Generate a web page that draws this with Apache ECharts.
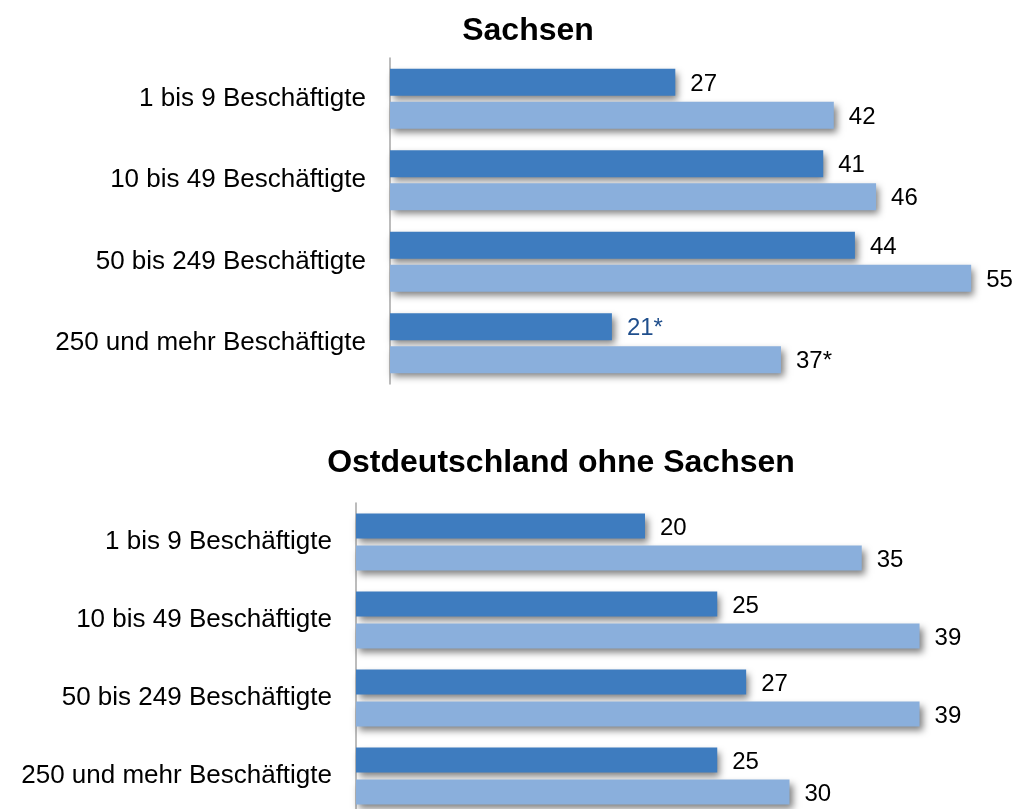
<!DOCTYPE html>
<html>
<head>
<meta charset="utf-8">
<script src="https://cdn.jsdelivr.net/npm/echarts@6/dist/echarts.min.js"></script>
<style>
  html, body { margin: 0; padding: 0; background: #fff; }
  #chart { width: 1016px; height: 809px; }
</style>
</head>
<body>
<div id="chart"></div>
<script>
var categories = ['1 bis 9 Beschäftigte', '10 bis 49 Beschäftigte', '50 bis 249 Beschäftigte', '250 und mehr Beschäftigte']
var sachsenDark = [27, 41, 44, 21]
var sachsenLight = [42, 46, 55, 37]
var sachsenStarred = [false, false, false, true]
var ostDark = [20, 25, 27, 25]
var ostLight = [35, 39, 39, 30]
var ostStarred = [false, false, false, false]

var font = 'Liberation Sans, Arial, sans-serif'
var darkBlue = '#3e7cbf'
var lightBlue = '#8aafdc'

var chart = echarts.init(document.getElementById('chart'))

function makeSeries(values, starred, color, idx, barWidth, gap, starColor) {
  return {
    type: 'bar',
    xAxisIndex: idx,
    yAxisIndex: idx,
    barWidth: barWidth,
    barGap: gap,
    data: values.map(function(v, i) {
      // values marked with * get their own label colour
      if (starred[i] && starColor) return { value: v, label: { color: starColor } }
      return v
    }),
    itemStyle: {
      color: color,
      shadowColor: 'rgba(0,0,0,0.5)',
      shadowBlur: 7,
      shadowOffsetX: 3,
      shadowOffsetY: 4
    },
    label: {
      show: true,
      position: 'right',
      distance: 15,
      offset: [0, 2],
      fontFamily: font,
      fontSize: 24,
      color: '#000',
      formatter: function(p) {
        return p.value + (starred[p.dataIndex] ? '*' : '')
      }
    },
    animation: false
  }
}

var yAxisBase = function(idx) {
  return {
    type: 'category',
    gridIndex: idx,
    inverse: true,
    data: categories,
    axisLine: { show: true, lineStyle: { color: '#a6a6a6', width: 1.5 } },
    axisTick: { show: false },
    axisLabel: { margin: 24, padding: [12, 0, 0, 0], fontFamily: font, fontSize: 26, color: '#000' }
  }
}

chart.setOption({
  backgroundColor: '#fff',
  title: [
    {
      text: 'Sachsen',
      left: 523, top: 10,
      textAlign: 'center',
      textStyle: { fontFamily: font, fontSize: 32, fontWeight: 'bold', color: '#000' }
    },
    {
      text: 'Ostdeutschland ohne Sachsen',
      left: 556, top: 442,
      textAlign: 'center',
      textStyle: { fontFamily: font, fontSize: 32, fontWeight: 'bold', color: '#000' }
    }
  ],
  grid: [
    { left: 390, top: 58, width: 634, height: 326, outerBoundsMode: 'none' },
    { left: 356, top: 503, width: 578, height: 312, outerBoundsMode: 'none' }
  ],
  xAxis: [
    { type: 'value', gridIndex: 0, min: 0, max: 60, show: false },
    { type: 'value', gridIndex: 1, min: 0, max: 40, show: false }
  ],
  yAxis: [yAxisBase(0), yAxisBase(1)],
  series: [
    makeSeries(sachsenDark, sachsenStarred, darkBlue, 0, 27, '22%', '#1f4e8c'),
    makeSeries(sachsenLight, sachsenStarred, lightBlue, 0, 27, '22%'),
    makeSeries(ostDark, ostStarred, darkBlue, 1, 25, '28%'),
    makeSeries(ostLight, ostStarred, lightBlue, 1, 25, '28%')
  ]
})
</script>
</body>
</html>
